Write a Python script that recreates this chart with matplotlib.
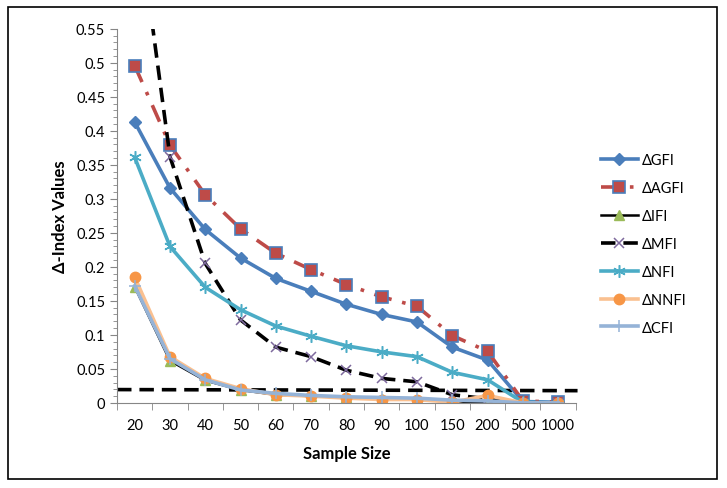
import matplotlib
matplotlib.use("Agg")
import matplotlib.pyplot as plt
from matplotlib.patches import Rectangle
from matplotlib.ticker import MultipleLocator

plt.rcParams["font.family"] = ["Lato", "DejaVu Sans"]

# -----------------------
# DATA
# -----------------------
sample_sizes = ["20", "30", "40", "50", "60", "70", "80", "90", "100", "150", "200", "500", "1000"]

gfi = [0.413, 0.316, 0.255, 0.213, 0.183, 0.164, 0.145, 0.130, 0.119, 0.082, 0.063, 0.002, 0.001]
agfi = [0.496, 0.379, 0.306, 0.256, 0.220, 0.196, 0.174, 0.156, 0.142, 0.099, 0.076, 0.003, 0.001]
ifi = [0.171, 0.062, 0.033, 0.019, 0.012, 0.010, 0.008, 0.006, 0.005, 0.002, 0.000, 0.000, 0.000]
mfi = [0.750, 0.362, 0.205, 0.122, 0.082, 0.068, 0.048, 0.036, 0.031, 0.012, 0.006, 0.000, 0.000]
nfi = [0.361, 0.230, 0.170, 0.137, 0.113, 0.098, 0.084, 0.075, 0.068, 0.045, 0.034, 0.001, 0.000]
nnfi = [0.185, 0.068, 0.036, 0.021, 0.012, 0.010, 0.007, 0.005, 0.005, 0.001, 0.011, 0.000, 0.000]
cfi = [0.172, 0.065, 0.034, 0.019, 0.014, 0.011, 0.009, 0.008, 0.007, 0.004, 0.003, 0.000, 0.000]

# cut-off line drawn across the whole axis
cutoff_x = [-0.5, 12.55]
cutoff_y = [0.0196, 0.018]

# -----------------------
# FIGURE
# -----------------------
fig = plt.figure(figsize=(7.27, 4.89), dpi=100)
ax = fig.add_axes([0.161, 0.174, 0.631, 0.765])

x = list(range(len(sample_sizes)))

ax.plot(x, gfi, color="#4A7EBB", lw=2.6, marker="D", ms=6,
        mfc="#4A7EBB", mec="#4A7EBB", label="ΔGFI")
ax.plot(x, agfi, color="#BE4B48", lw=2.6, ls=(0, (5, 3, 1, 3)), marker="s", ms=8.5,
        mfc="#BE4B48", mec="#4A7EBB", mew=1.2, label="ΔAGFI")
ax.plot(x, ifi, color="black", lw=1.8, marker="^", ms=6.5,
        mfc="#9BBB59", mec="#9BBB59", label="ΔIFI")
ax.plot(x, mfi, color="black", lw=2.6, ls=(0, (4, 2.2)), marker="x", ms=7,
        mec="#7E6A9E", mew=1.1, label="ΔMFI")
ax.plot(x, nfi, color="#4BACC6", lw=2.6, marker=(6, 2, 0), ms=9,
        mec="#4BACC6", mew=1.1, label="ΔNFI")
ax.plot(x, nnfi, color="#FAC090", lw=2.6, marker="o", ms=7.5,
        mfc="#F79646", mec="#F79646", label="ΔNNFI")
ax.plot(x, cfi, color="#95B3D7", lw=2.6, marker="+", ms=8,
        mec="#95B3D7", mew=1.1, label="ΔCFI")

ax.plot(cutoff_x, cutoff_y, color="black", lw=2.6, ls=(0, (4, 2.2)), clip_on=False, zorder=1.5)

# -----------------------
# AXES
# -----------------------
ax.set_xlim(-0.5, 12.5)
ax.set_ylim(0, 0.55)
ax.set_xticks(x)
ax.set_xticklabels(sample_sizes)
ax.set_xticks([i - 0.5 for i in range(len(sample_sizes) + 1)], minor=True)
ax.tick_params(axis="x", which="major", length=0, pad=11, labelsize=10.5)
ax.tick_params(axis="x", which="minor", length=5, direction="out", color="#868686")

ax.yaxis.set_major_locator(MultipleLocator(0.05))
ax.yaxis.set_minor_locator(MultipleLocator(0.01))
ax.set_yticks([i * 0.05 for i in range(12)])
ax.set_yticklabels(["0", "0.05", "0.1", "0.15", "0.2", "0.25", "0.3",
                    "0.35", "0.4", "0.45", "0.5", "0.55"])
ax.tick_params(axis="y", which="major", length=5, direction="out", color="#868686", labelsize=10.5)
ax.tick_params(axis="y", which="minor", length=3, direction="out", color="#868686")

for side in ["top", "right"]:
    ax.spines[side].set_visible(False)
for side in ["left", "bottom"]:
    ax.spines[side].set_color("#868686")

ax.set_xlabel("Sample Size", fontsize=12, fontweight="bold", labelpad=9)
ax.set_ylabel("Δ-Index Values", fontsize=12, fontweight="bold", labelpad=6)

ax.legend(loc="center left", bbox_to_anchor=(0.808, 0.499),
          bbox_transform=fig.transFigure, frameon=False, fontsize=10.5,
          handlelength=2.6, handletextpad=0.2, labelspacing=0.95)

# outer chart border
fig.patches.append(Rectangle((0.011, 0.018), 0.975, 0.965, transform=fig.transFigure,
                             fill=False, edgecolor="black", lw=1.2))

fig.savefig("out.png", dpi=100)
